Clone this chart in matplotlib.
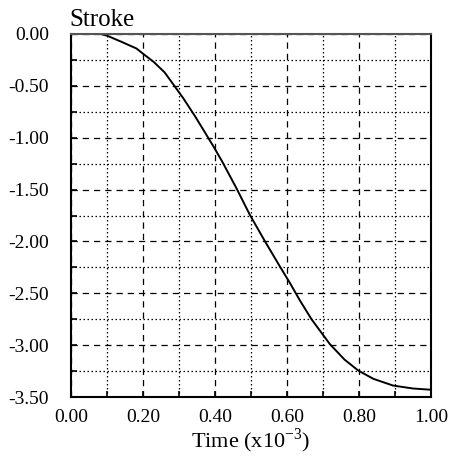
import matplotlib
matplotlib.use("Agg")
import matplotlib.pyplot as plt
import numpy as np

time = [0.0, 0.02, 0.039, 0.07, 0.10, 0.14, 0.182, 0.20, 0.23, 0.26, 0.283, 0.312, 0.344,
        0.367, 0.395, 0.42, 0.46, 0.497, 0.539, 0.58, 0.608, 0.636, 0.668, 0.719,
        0.76, 0.798, 0.84, 0.895, 0.95, 1.00]
stroke = [0.0, 0.015, 0.02, 0.01, -0.016, -0.075, -0.14, -0.19, -0.27, -0.37, -0.48, -0.62, -0.79,
          -0.92, -1.08, -1.23, -1.49, -1.745, -2.00, -2.24, -2.40, -2.57, -2.75, -2.99,
          -3.14, -3.245, -3.325, -3.39, -3.418, -3.43]

xticks = [0.0, 0.2, 0.4, 0.6, 0.8, 1.0]
yticks = [0.0, -0.5, -1.0, -1.5, -2.0, -2.5, -3.0, -3.5]

plt.rcParams['font.family'] = ['Liberation Serif', 'DejaVu Serif']

fig = plt.figure(figsize=(4.49, 4.57), dpi=100)
ax = fig.add_axes([71/449, 1 - 397/457, 360/449, 363/457])

ax.plot(time, stroke, color='black', lw=1.4)

ax.set_xlim(0, 1.0)
ax.set_ylim(-3.5, 0)
ax.set_xticks(xticks)
ax.set_xticklabels([f"{v:.2f}" for v in xticks])
ax.set_yticks(yticks)
ax.set_yticklabels([f"{v:.2f}" for v in yticks])
ax.set_xticks(np.arange(0.1, 1.0, 0.2), minor=True)
ax.set_yticks(np.arange(-3.25, 0, 0.5), minor=True)

ax.grid(which='major', color='black', linestyle=(0, (5, 4)), lw=0.9)
ax.grid(which='minor', color='black', linestyle=(0, (1.2, 2)), lw=0.9)

ax.tick_params(which='both', direction='in', length=4, width=1.2, labelsize=14,
               top=False, right=False, colors='black')
ax.tick_params(axis='y', pad=16)
ax.tick_params(axis='x', pad=9)
for s in ax.spines.values():
    s.set_linewidth(1.5)
    s.set_color('black')
ax.spines['top'].set_color('#555555')

ax.set_xlabel(r"Time (x10$^{\mathregular{-3}}$)", fontsize=16, labelpad=0)
fig.text(69/449, 1 - 20/457, "Stroke", fontsize=18, ha='left', va='center')

fig.savefig("out.png", dpi=100)
